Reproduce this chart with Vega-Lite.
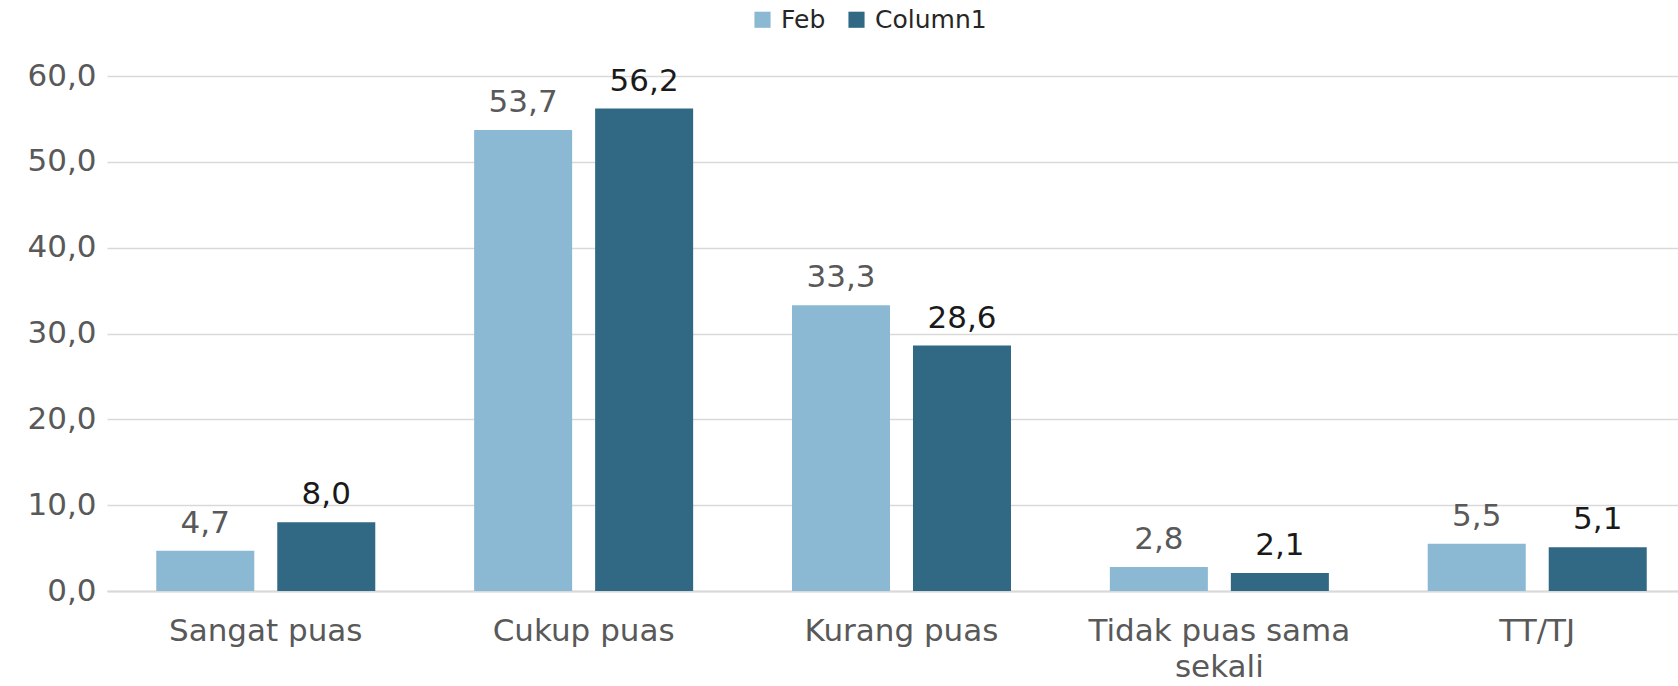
{
  "$schema": "https://vega.github.io/schema/vega-lite/v6.json",
  "autosize": "none",
  "width": 1589,
  "height": 515,
  "padding": {"left": 107, "top": 76, "right": 0, "bottom": 95},
  "background": "white",
  "config": {
    "font": "DejaVu Sans",
    "view": {"stroke": null},
    "locale": {"number": {"decimal": ",", "thousands": ".", "grouping": [3], "currency": ["", ""]}}
  },
  "data": {
    "values": [
      {"category": "Sangat puas", "series": "Feb", "value": 4.7},
      {"category": "Sangat puas", "series": "Column1", "value": 8.0},
      {"category": "Cukup puas", "series": "Feb", "value": 53.7},
      {"category": "Cukup puas", "series": "Column1", "value": 56.2},
      {"category": "Kurang puas", "series": "Feb", "value": 33.3},
      {"category": "Kurang puas", "series": "Column1", "value": 28.6},
      {"category": "Tidak puas sama sekali", "series": "Feb", "value": 2.8},
      {"category": "Tidak puas sama sekali", "series": "Column1", "value": 2.1},
      {"category": "TT/TJ", "series": "Feb", "value": 5.5},
      {"category": "TT/TJ", "series": "Column1", "value": 5.1}
    ]
  },
  "encoding": {
    "x": {
      "field": "category", "type": "nominal", "sort": null,
      "scale": {"paddingInner": 0.311, "paddingOuter": 0.155},
      "axis": {
        "title": null, "labelAngle": 0, "ticks": false,
        "domainColor": "#D9D9D9", "domainWidth": 2,
        "labelFontSize": 31, "labelColor": "#595959", "labelPadding": 25,
        "labelLineHeight": 36, "labelBaseline": "top", "labelLimit": 0,
        "labelExpr": "datum.label == 'Tidak puas sama sekali' ? ['Tidak puas sama', 'sekali'] : datum.label"
      }
    },
    "xOffset": {"field": "series", "type": "nominal", "sort": ["Feb", "Column1"], "scale": {"paddingInner": 0.19, "paddingOuter": 0}},
    "y": {
      "field": "value", "type": "quantitative",
      "scale": {"domain": [0, 60], "nice": false},
      "axis": {
        "title": null, "values": [0, 10, 20, 30, 40, 50, 60], "format": ".1f",
        "ticks": false, "domain": false,
        "gridColor": "#D9D9D9", "gridWidth": 1.5,
        "labelFontSize": 31, "labelColor": "#595959", "labelPadding": 11
      }
    }
  },
  "layer": [
    {
      "mark": {"type": "bar"},
      "encoding": {
        "color": {
          "field": "series", "type": "nominal",
          "scale": {"domain": ["Feb", "Column1"], "range": ["#8BB8D3", "#316884"]},
          "legend": {
            "title": null, "orient": "none", "direction": "horizontal",
            "legendX": 643, "legendY": -69,
            "symbolType": "square", "symbolSize": 260, "symbolStrokeWidth": 0,
            "labelFontSize": 25, "labelColor": "#262626", "columnPadding": 18, "labelOffset": 6
          }
        }
      }
    },
    {
      "mark": {"type": "text", "baseline": "alphabetic", "dy": -18, "fontSize": 31},
      "encoding": {
        "text": {"field": "value", "type": "quantitative", "format": ".1f"},
        "color": {"condition": {"test": "datum.series == 'Feb'", "value": "#595959"}, "value": "#1a1a1a"}
      }
    }
  ]
}
